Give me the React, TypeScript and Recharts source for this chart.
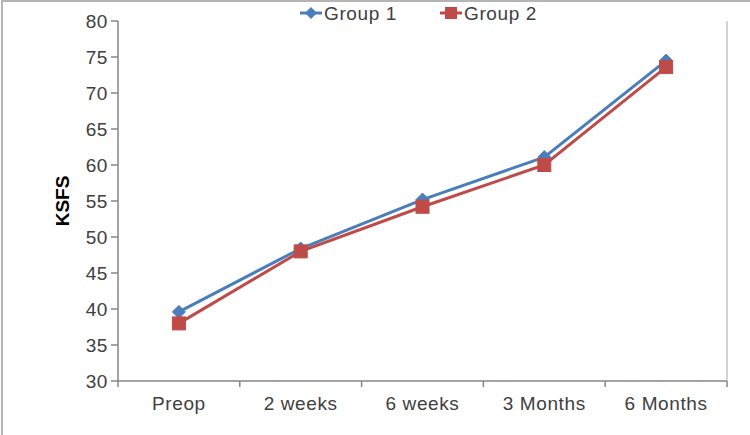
import React from 'react';
import { LineChart, Line, XAxis, YAxis, Legend, ReferenceLine } from 'recharts';

const categories = ['Preop', '2 weeks', '6 weeks', '3 Months', '6 Months'];
const group1 = [39.6, 48.4, 55.2, 61.1, 74.5];
const group2 = [38.0, 48.0, 54.2, 60.0, 73.6];
const yTicks = [30, 35, 40, 45, 50, 55, 60, 65, 70, 75, 80];
const boundaryTicks = [0, 1, 2, 3, 4, 5];

const data = categories.map((c, i) => ({ cat: c, g1: group1[i], g2: group2[i] }));

const BLUE = '#4A7EBB';
const RED = '#BE4B48';
const FONT = 'Liberation Sans, Arial, sans-serif';
const AXIS = '#868686';

const Diamond = (props: any) => {
  const { cx, cy } = props;
  if (cx == null || cy == null) return null;
  const r = 6.5;
  return (
    <polygon
      points={`${cx},${cy - r} ${cx + r},${cy} ${cx},${cy + r} ${cx - r},${cy}`}
      fill={BLUE}
      stroke={BLUE}
      strokeWidth={1}
    />
  );
};

const Square = (props: any) => {
  const { cx, cy } = props;
  if (cx == null || cy == null) return null;
  const s = 13;
  return <rect x={cx - s / 2} y={cy - s / 2} width={s} height={s} fill={RED} stroke={RED} strokeWidth={1} />;
};

const LegendContent = () => (
  <svg width={750} height={26} style={{ display: 'block' }}>
    <line x1={300} y1={13} x2={322} y2={13} stroke={BLUE} strokeWidth={3} />
    <polygon points="311,7 317,13 311,19 305,13" fill={BLUE} />
    <text x={324} y={20} fontFamily={FONT} fontSize={19} fill="#404040" letterSpacing={0.6}>
      Group 1
    </text>
    <line x1={440} y1={13} x2={462} y2={13} stroke={RED} strokeWidth={3} />
    <rect x={445} y={7} width={12} height={12} fill={RED} />
    <text x={464} y={20} fontFamily={FONT} fontSize={19} fill="#404040" letterSpacing={0.6}>
      Group 2
    </text>
  </svg>
);

export default function App() {
  return (
    <div style={{ position: 'absolute', left: 0, top: 0, width: 750, height: 435, overflow: 'hidden', background: '#fff' }}>
      <div
        style={{
          position: 'absolute',
          left: 1,
          top: 0,
          width: 760,
          height: 445,
          border: '2px solid #b4b4b4',
          boxSizing: 'border-box',
        }}
      />
      <div style={{ position: 'absolute', left: 0, top: 0 }}>
        <LineChart width={750} height={435} data={data} margin={{ top: 21, right: 23, bottom: 0, left: 0 }}>
          <XAxis xAxisId="grid" type="number" dataKey={() => 0} domain={[0, 5]} ticks={boundaryTicks} hide />
          <XAxis
            xAxisId="cat"
            dataKey="cat"
            scale="band"
            height={54}
            tickLine={false}
            tickSize={6}
            tickMargin={10}
            axisLine={{ stroke: AXIS, strokeWidth: 1.5 }}
            tick={{ fill: '#404040', fontSize: 19, fontFamily: FONT, letterSpacing: 0.6 }}
            interval={0}
          />
          <YAxis
            yAxisId="l"
            domain={[30, 80]}
            ticks={yTicks}
            width={118}
            tickSize={7}
            tickMargin={3}
            axisLine={{ stroke: AXIS, strokeWidth: 1.5 }}
            tickLine={{ stroke: AXIS, strokeWidth: 1.5 }}
            tick={{ fill: '#404040', fontSize: 19, fontFamily: FONT, letterSpacing: 0.6 }}
            label={{
              value: 'KSFS',
              angle: -90,
              position: 'insideLeft',
              offset: 62,
              style: { textAnchor: 'middle', fontWeight: 'bold', fontSize: 19, fontFamily: FONT, fill: '#000' },
            }}
          />
          <ReferenceLine xAxisId="grid" yAxisId="l" x={5} stroke="#c6c6c6" strokeWidth={1.5} />
          {boundaryTicks.map((t) => (
            <ReferenceLine
              key={t}
              xAxisId="grid"
              yAxisId="l"
              ifOverflow="visible"
              segment={[
                { x: t, y: 30 },
                { x: t, y: 29.15 },
              ]}
              stroke={AXIS}
              strokeWidth={1.5}
            />
          ))}
          <Legend
            verticalAlign="middle"
            align="center"
            layout="horizontal"
            wrapperStyle={{ top: 0, left: 0, width: 750, height: 26 }}
            content={<LegendContent />}
          />
          <Line
            xAxisId="cat"
            yAxisId="l"
            type="linear"
            dataKey="g1"
            name="Group 1"
            stroke={BLUE}
            strokeWidth={3}
            dot={<Diamond />}
            activeDot={false}
            isAnimationActive={false}
          />
          <Line
            xAxisId="cat"
            yAxisId="l"
            type="linear"
            dataKey="g2"
            name="Group 2"
            stroke={RED}
            strokeWidth={3}
            dot={<Square />}
            activeDot={false}
            isAnimationActive={false}
          />
        </LineChart>
      </div>
    </div>
  );
}
